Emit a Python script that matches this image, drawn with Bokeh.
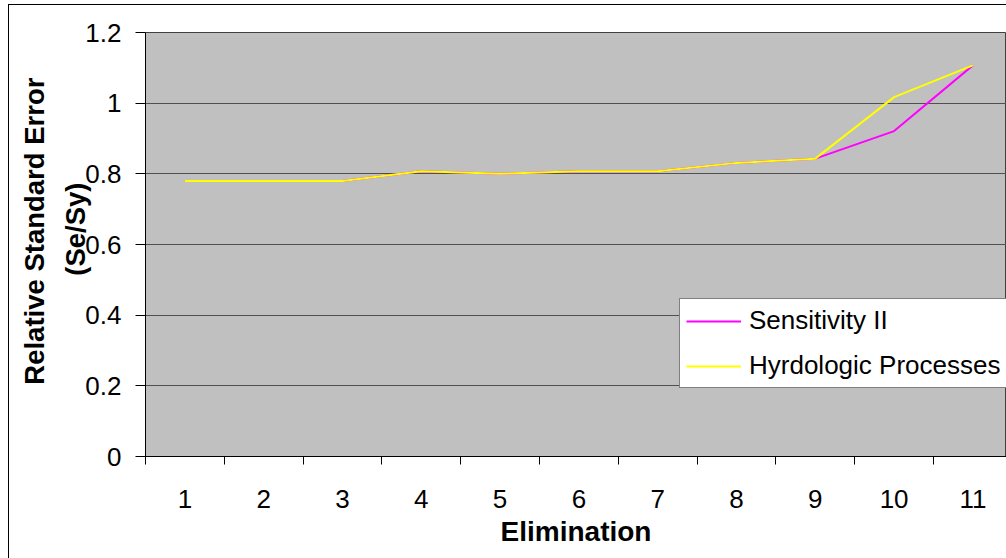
from bokeh.plotting import figure
from bokeh.models import (Range1d, FixedTicker, Legend, LegendItem, Title,
                          ColumnDataSource, InlineStyleSheet)
from bokeh.embed import file_html
from bokeh.resources import INLINE

elimination = [1, 2, 3, 4, 5, 6, 7, 8, 9, 10, 11]
sensitivity_ii = [0.78, 0.78, 0.78, 0.807, 0.80, 0.807, 0.807, 0.831, 0.843, 0.921, 1.107]
hydrologic = [0.78, 0.78, 0.78, 0.807, 0.80, 0.807, 0.807, 0.831, 0.843, 1.017, 1.107]
y_ticks = [0, 0.2, 0.4, 0.6, 0.8, 1.0, 1.2]
y_tick_labels = {0: "0", 0.2: "0.2", 0.4: "0.4", 0.6: "0.6", 0.8: "0.8", 1.0: "1", 1.2: "1.2"}

FONT = "Liberation Sans"
W, H = 1006, 558
left, top, bottom = 145, 32, 102
cat_px = 78.8
x_end = 0.5 + (W - left) / cat_px

p = figure(width=W, height=H, output_backend="svg", toolbar_location=None,
           x_range=Range1d(0.5, x_end), y_range=Range1d(0, 1.2),
           min_border_left=left, min_border_top=top, min_border_bottom=bottom,
           min_border_right=0)
p.background_fill_color = "#c0c0c0"
p.border_fill_color = "white"
p.outline_line_color = "#404040"
# outer chart border (left and top edges visible in the reference)
p.stylesheets = [InlineStyleSheet(css=(
    ":host { position: relative; }"
    ":host::after { content: ''; position: absolute; left: 8px; top: 4px; "
    "width: 1100px; height: 600px; border-left: 1px solid black; "
    "border-top: 1px solid black; pointer-events: none; z-index: 100; }"))]

# x axis
p.xaxis.ticker = FixedTicker(ticks=elimination,
                             minor_ticks=[i + 0.5 for i in range(0, 11)])
p.xaxis.major_tick_out = 0
p.xaxis.major_tick_in = 0
p.xaxis.minor_tick_out = 8
p.xaxis.minor_tick_in = 0
p.xaxis.minor_tick_line_color = "black"
p.xaxis.axis_line_color = "black"
p.xaxis.major_label_standoff = 25
p.xaxis.major_label_text_font = FONT
p.xaxis.major_label_text_font_size = "26px"
p.xaxis.major_label_text_color = "black"
p.xaxis.axis_label = "Elimination"
p.xaxis.axis_label_text_font = FONT
p.xaxis.axis_label_text_font_size = "28px"
p.xaxis.axis_label_text_font_style = "bold"
p.xaxis.axis_label_text_color = "black"
p.xaxis.axis_label_standoff = 5

# y axis
p.yaxis.ticker = FixedTicker(ticks=y_ticks, minor_ticks=[])
p.yaxis.major_label_overrides = y_tick_labels
p.yaxis.major_tick_out = 10
p.yaxis.major_tick_in = 0
p.yaxis.major_tick_line_color = "black"
p.yaxis.axis_line_color = "black"
p.yaxis.major_label_standoff = 14
p.yaxis.major_label_text_font = FONT
p.yaxis.major_label_text_font_size = "26px"
p.yaxis.major_label_text_color = "black"

p.xgrid.grid_line_color = None
p.ygrid.ticker = FixedTicker(ticks=y_ticks)
p.ygrid.grid_line_color = "#505050"
p.ygrid.grid_line_width = 1

src = ColumnDataSource(dict(x=elimination, s=sensitivity_ii, h=hydrologic))
r1 = p.line("x", "s", source=src, line_color="#ff00ff", line_width=2)
r2 = p.line("x", "h", source=src, line_color="#ffff00", line_width=2)

legend = Legend(items=[LegendItem(label="Sensitivity II", renderers=[r1]),
                       LegendItem(label="Hyrdologic Processes", renderers=[r2])],
                location=(679 - left, 456 - 388), orientation="vertical",
                padding=6, margin=0, spacing=14, glyph_width=55, glyph_height=26,
                label_height=26, label_width=300, label_standoff=8,
                label_text_font=FONT, label_text_font_size="26px",
                label_text_color="black", label_text_baseline="middle",
                border_line_color="black", border_line_width=1,
                background_fill_color="white", background_fill_alpha=1)
p.add_layout(legend)

# y axis title in two lines (second line overlaps the tick labels, as in the reference)
for txt, so, off in [("(Se/Sy)", -16, 150), ("Relative Standard Error", 31, 45)]:
    p.add_layout(Title(text=txt, align="right", offset=off, standoff=so,
                       text_font=FONT, text_font_size="27.5px",
                       text_font_style="bold", text_color="black"), "left")

open("out.html", "w").write(file_html(p, INLINE))
